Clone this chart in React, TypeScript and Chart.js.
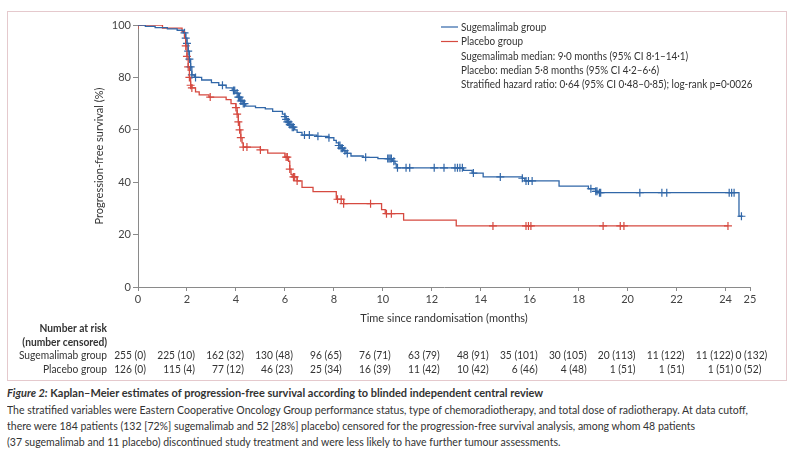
import React, { useEffect, useRef } from 'react';
import { Chart, registerables } from 'chart.js';

Chart.register(...registerables);

// ---------- data ----------
const sugeTimes = [0, 0.3, 0.7, 1.2, 1.6, 1.85, 1.95, 2.0, 2.05, 2.1, 2.15, 2.2, 2.3, 2.6, 3.0, 3.3, 3.6, 3.85, 4.0, 4.1, 4.2, 4.3, 4.4, 4.8, 5.2, 5.5, 5.9, 6.0, 6.05, 6.1, 6.2, 6.3, 6.4, 6.5, 6.7, 7.3, 7.8, 8.0, 8.1, 8.2, 8.3, 8.4, 8.5, 8.7, 9.2, 9.8, 10.4, 10.5, 10.55, 13.3, 13.65, 14.1, 15.7, 15.8, 17.2, 18.4, 18.7, 18.8, 24.55];
const sugeSurv = [100, 99.5, 99, 98.5, 98, 97, 95, 93, 90, 87, 84, 81, 80, 79, 78, 77, 76, 75, 74, 72.5, 71, 70, 69, 68.5, 68, 67, 66, 65, 64, 63, 62, 61, 60, 59, 58, 57.5, 57, 56, 55, 54, 53, 52, 51, 50, 49.5, 49, 48, 47, 45.5, 44.5, 43.5, 42, 41.5, 40.5, 38.5, 37.5, 36.5, 36, 27];
const sugeLastFollowUp = 24.7;
const sugeCensored = [1.9, 1.95, 2.0, 2.05, 2.1, 2.15, 2.2, 2.35, 3.45, 3.9, 3.95, 4.05, 4.1, 4.15, 4.2, 4.25, 4.3, 4.35, 6.0, 6.05, 6.1, 6.15, 6.2, 6.25, 6.3, 6.35, 6.8, 7.0, 7.35, 7.8, 8.2, 8.25, 8.3, 8.35, 8.45, 8.55, 9.3, 10.2, 10.25, 10.3, 10.35, 10.45, 10.6, 10.95, 11.1, 12.1, 12.5, 12.95, 13.05, 13.15, 13.25, 13.7, 14.8, 15.7, 15.85, 15.95, 16.1, 18.5, 18.7, 18.75, 18.85, 18.9, 20.5, 21.4, 21.6, 24.15, 24.25, 24.35, 24.65];

const placTimes = [0, 1.0, 1.8, 1.9, 1.95, 2.0, 2.05, 2.1, 2.15, 2.2, 2.35, 2.5, 2.9, 3.6, 3.8, 4.0, 4.05, 4.1, 4.15, 4.2, 4.25, 4.3, 5.0, 5.3, 6.0, 6.15, 6.2, 6.25, 6.3, 6.5, 6.7, 7.15, 8.1, 8.4, 9.95, 10.1, 10.85, 13.0];
const placSurv = [100, 98.8, 97.5, 95, 92, 88, 84, 80, 77, 76, 74.5, 73.3, 72.5, 71.5, 70, 68.5, 66, 63, 60, 57, 55, 53.4, 52.3, 51.1, 49.6, 48, 45, 43, 42, 40.5, 38, 36.4, 33.5, 31.8, 29.5, 28, 25.5, 23.3];
const placLastFollowUp = 24.1;
const placCensored = [0, 1.95, 2.0, 2.05, 2.1, 2.15, 2.2, 2.95, 4.0, 4.05, 4.1, 4.15, 4.2, 4.3, 4.45, 5.0, 6.05, 6.1, 6.2, 6.35, 6.4, 6.5, 8.15, 8.3, 8.4, 9.5, 10.15, 10.35, 14.5, 15.85, 15.95, 16.05, 19.0, 19.7, 19.85, 24.1];

const xTickValues = [0, 2, 4, 6, 8, 10, 12, 14, 16, 18, 20, 22, 24, 25];
const yTickValues = [0, 20, 40, 60, 80, 100];

const riskTimes = [0, 2, 4, 6, 8, 10, 12, 14, 16, 18, 20, 22, 24, 25];
const sugeAtRisk = [255, 225, 162, 130, 96, 76, 63, 48, 35, 30, 20, 11, 11, 0];
const sugeCensoredCount = [0, 10, 32, 48, 65, 71, 79, 91, 101, 105, 113, 122, 122, 132];
const placAtRisk = [126, 115, 77, 46, 25, 16, 11, 10, 6, 4, 1, 1, 1, 0];
const placCensoredCount = [0, 4, 12, 23, 34, 39, 42, 42, 46, 48, 51, 51, 51, 52];

const seriesNames = ['Sugemalimab group', 'Placebo group'];
const statLines = [
  'Sugemalimab median: 9·0 months (95% CI 8·1–14·1)',
  'Placebo: median 5·8 months (95% CI 4·2–6·6)',
  'Stratified hazard ratio: 0·64 (95% CI 0·48–0·85); log-rank p=0·0026',
];
const xTitle = 'Time since randomisation (months)';
const yTitle = 'Progression-free survival (%)';
const riskHeader = ['Number at risk', '(number censored)'];

const captionLead = 'Figure 2:';
const captionTitle = ' Kaplan–Meier estimates of progression-free survival according to blinded independent central review';
const captionLines = [
  'The stratified variables were Eastern Cooperative Oncology Group performance status, type of chemoradiotherapy, and total dose of radiotherapy. At data cutoff,',
  'there were 184 patients (132 [72%] sugemalimab and 52 [28%] placebo) censored for the progression-free survival analysis, among whom 48 patients',
  '(37 sugemalimab and 11 placebo) discontinued study treatment and were less likely to have further tumour assessments.',
];

// ---------- styles ----------
const BLUE = '#3167a8';
const RED = '#d64a40';
const TEXT = '#333333';
const AXIS = '#8a8a8a';
const FONT = 'Lato, "Open Sans", sans-serif';

function stepAt(times: number[], surv: number[], t: number) {
  let v = surv[0];
  for (let i = 0; i < times.length; i++) if (times[i] <= t + 1e-9) v = surv[i];
  return v;
}

function curve(times: number[], surv: number[], last: number) {
  const pts = times.map((t, i) => ({ x: t, y: surv[i] }));
  pts.push({ x: last, y: surv[surv.length - 1] });
  return pts;
}

function censorPts(times: number[], surv: number[], cens: number[]) {
  return cens.map((t) => ({ x: t, y: stepAt(times, surv, t) }));
}

function fillSqueezed(ctx: CanvasRenderingContext2D, text: string, x: number, y: number, squeeze: number) {
  const w = ctx.measureText(text).width;
  ctx.fillText(text, x, y, w * squeeze);
}

const overlayPlugin = {
  id: 'overlay',
  afterDraw(chart: any) {
    const ctx = chart.ctx as CanvasRenderingContext2D;
    const xs = chart.scales.x;
    ctx.save();
    ctx.textBaseline = 'middle';
    // legend
    ctx.font = `11px ${FONT}`;
    ctx.fillStyle = TEXT;
    ctx.textAlign = 'left';
    const legendColors = [BLUE, RED];
    seriesNames.forEach((name, i) => {
      const y = 27 + i * 14.5;
      ctx.strokeStyle = legendColors[i];
      ctx.lineWidth = 1.2;
      ctx.beginPath();
      ctx.moveTo(441, y);
      ctx.lineTo(458, y);
      ctx.stroke();
      fillSqueezed(ctx, name, 461, y, 0.9);
    });
    statLines.forEach((s, i) => {
      fillSqueezed(ctx, s, 461, 56 + i * 14.2, 0.9);
    });
    // risk table
    ctx.textAlign = 'right';
    ctx.font = `bold 11px ${FONT}`;
    fillSqueezed(ctx, riskHeader[0], 107, 328, 0.93);
    fillSqueezed(ctx, riskHeader[1], 107, 342, 0.93);
    ctx.font = `11px ${FONT}`;
    fillSqueezed(ctx, seriesNames[0], 107, 355.5, 0.93);
    fillSqueezed(ctx, seriesNames[1], 107, 369, 0.93);
    const rows = [
      { y: 355.5, n: sugeAtRisk, c: sugeCensoredCount },
      { y: 369, n: placAtRisk, c: placCensoredCount },
    ];
    rows.forEach((r) => {
      riskTimes.forEach((t, i) => {
        const label = `${r.n[i]} (${r.c[i]})`;
        let x: number;
        if (i === riskTimes.length - 1) {
          ctx.textAlign = 'left';
          x = xs.getPixelForValue(riskTimes[i - 1]) + 10;
        } else {
          ctx.textAlign = 'right';
          x = xs.getPixelForValue(t) + 8;
        }
        fillSqueezed(ctx, label, x, r.y, 0.93);
      });
    });
    ctx.restore();
  },
};

export default function App() {
  const ref = useRef<HTMLCanvasElement | null>(null);

  useEffect(() => {
    if (!ref.current) return;
    const chart = new Chart(ref.current, {
      type: 'line',
      data: {
        datasets: [
          {
            label: seriesNames[0],
            data: curve(sugeTimes, sugeSurv, sugeLastFollowUp),
            borderColor: BLUE,
            borderWidth: 1.3,
            stepped: 'before',
            pointRadius: 0,
            fill: false,
          },
          {
            label: seriesNames[1],
            data: curve(placTimes, placSurv, placLastFollowUp),
            borderColor: RED,
            borderWidth: 1.3,
            stepped: 'before',
            pointRadius: 0,
            fill: false,
          },
          {
            label: 'censored-s',
            data: censorPts(sugeTimes, sugeSurv, sugeCensored),
            showLine: false,
            pointStyle: 'cross',
            pointRadius: 4,
            pointBorderWidth: 1.2,
            borderColor: BLUE,
            backgroundColor: BLUE,
          },
          {
            label: 'censored-p',
            data: censorPts(placTimes, placSurv, placCensored),
            showLine: false,
            pointStyle: 'cross',
            pointRadius: 4,
            pointBorderWidth: 1.2,
            borderColor: RED,
            backgroundColor: RED,
          },
        ],
      } as any,
      options: {
        animation: false,
        responsive: false,
        maintainAspectRatio: false,
        events: [],
        layout: { padding: { left: 86, right: 50, top: 25, bottom: 53 } },
        plugins: { legend: { display: false }, tooltip: { enabled: false }, title: { display: false } },
        scales: {
          x: {
            type: 'linear',
            min: 0,
            max: 25,
            afterBuildTicks: (s: any) => {
              s.ticks = xTickValues.map((v) => ({ value: v }));
            },
            afterFit: (s: any) => {
              s.height = 40;
              s.paddingLeft = 0;
              s.paddingRight = 0;
            },
            border: { display: true, color: AXIS, width: 1 },
            grid: { drawOnChartArea: false, drawTicks: true, tickLength: 4, color: AXIS },
            ticks: { color: '#444', font: { family: FONT, size: 11 }, padding: 2, autoSkip: false, maxRotation: 0 },
            title: { display: true, text: xTitle, color: TEXT, font: { family: FONT, size: 11 }, padding: { top: 0, bottom: 2 } },
          },
          y: {
            type: 'linear',
            min: 0,
            max: 100,
            afterBuildTicks: (s: any) => {
              s.ticks = yTickValues.map((v) => ({ value: v }));
            },
            afterFit: (s: any) => {
              s.width = 52;
              s.paddingTop = 0;
              s.paddingBottom = 0;
            },
            border: { display: true, color: AXIS, width: 1 },
            grid: { drawOnChartArea: false, drawTicks: true, tickLength: 5, color: AXIS },
            ticks: { color: '#444', font: { family: FONT, size: 11 }, padding: 2 },
            title: { display: true, text: yTitle, color: TEXT, font: { family: FONT, size: 11 }, padding: { top: 7, bottom: 0 } },
          },
        },
      } as any,
      plugins: [overlayPlugin],
    });
    return () => chart.destroy();
  }, []);

  const captionStyle: React.CSSProperties = {
    position: 'absolute',
    left: 7,
    lineHeight: '16px',
    whiteSpace: 'nowrap',
    transform: 'scaleX(0.915)',
    transformOrigin: '0 0',
  };

  return (
    <div style={{ position: 'relative', width: 800, height: 455, fontFamily: FONT, color: TEXT }}>
      <style>{'body{margin:0;background:#fff}'}</style>
      <div
        style={{
          position: 'absolute',
          left: 7,
          top: 11,
          width: 778,
          height: 368,
          border: '1px solid #e5c9cd',
        }}
      />
      <canvas ref={ref} width={800} height={380} style={{ position: 'absolute', left: 0, top: 0, width: 800, height: 380 }} />
      <div style={{ ...captionStyle, top: 385, fontSize: 12, fontWeight: 700 }}>
        <i>{captionLead}</i>
        {captionTitle}
      </div>
      {captionLines.map((l, i) => (
        <div key={i} style={{ ...captionStyle, top: 402 + i * 16, fontSize: 11.5 }}>
          {l}
        </div>
      ))}
    </div>
  );
}
